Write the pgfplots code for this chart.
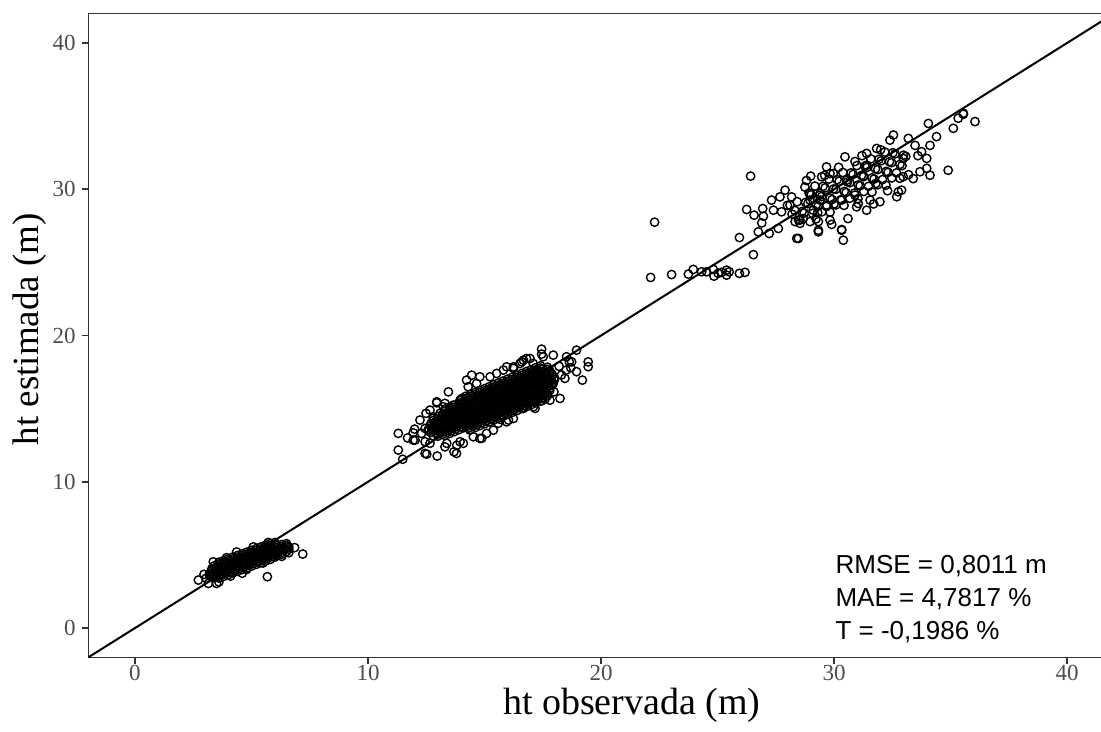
\documentclass[border=0pt]{standalone}
\usepackage{fontspec}
\setmainfont{Liberation Serif}
\newfontfamily\arial{Liberation Sans}
\usepackage{pgfplots}
\pgfplotsset{compat=1.18}

\definecolor{gr20}{HTML}{333333}
\definecolor{gr30}{HTML}{4D4D4D}

\pgfplotsset{
  pts/.style={only marks, mark=o, mark size=2.1pt, mark options={line width=0.7pt, black}},
}

\begin{document}
\begin{tikzpicture}
\begin{axis}[
  scale only axis, width=512.6pt, height=321.75pt,
  xmin=-2, xmax=42, ymin=-2, ymax=42,
  xtick={0,10,20,30,40}, ytick={0,10,20,30,40},
  axis line style={gr20, line width=0.6pt},
  tick style={gr20, line width=0.9pt},
  major tick length=3.2pt, tick align=outside,
  xtick pos=bottom, ytick pos=left,
  /pgf/number format/assume math mode=true,
  tick label style={font=\fontsize{11.5}{13}\selectfont, text=gr30},
  xticklabel style={inner sep=0.8pt},
  yticklabel style={inner sep=3pt},
  xlabel={ht observada (m)},
  ylabel={ht estimada (m)},
  xlabel style={font=\fontsize{19}{22}\selectfont, at={(axis description cs:0.530,-0.0742)}, anchor=center},
  ylabel style={font=\fontsize{18.5}{22}\selectfont, at={(axis description cs:-0.057,0.51)}, anchor=center},
  clip=true,
]
% cluster 1 (small trees)
\addplot[pts] coordinates {
(3.2,3.73)(3.4,3.84)(3.6,3.96)(3.8,4.07)(4.0,4.19)(4.2,4.31)(4.4,4.42)(4.6,4.54)(4.8,4.65)(5.0,4.77)(5.2,4.89)(5.4,5.00)(5.6,5.12)(5.8,5.23)(6.0,5.35)(6.2,5.41)(6.4,5.47)(6.6,5.53)
(3.3,4.05)(3.5,4.17)(3.7,4.29)(3.9,4.40)(4.1,4.52)(4.3,4.63)(4.5,4.75)(4.7,4.87)(4.9,4.98)(5.1,5.10)(5.3,5.21)(5.5,5.33)(5.7,5.45)(5.9,5.56)(6.1,5.65)(6.3,5.71)(6.5,5.77)
(3.3,3.51)(3.5,3.63)(3.7,3.75)(3.9,3.86)(4.1,3.98)(4.3,4.09)(4.5,4.21)(4.7,4.33)(4.9,4.44)(5.1,4.56)(5.3,4.67)(5.5,4.79)(5.7,4.91)(5.9,5.02)(6.1,5.11)(6.3,5.17)(6.5,5.23)
(3.6,4.50)(3.8,4.61)(4.0,4.73)(4.2,4.85)(4.4,4.96)(4.6,5.08)(4.8,5.19)(5.0,5.31)(5.2,5.43)(5.4,5.54)(5.6,5.66)(5.8,5.77)(6.0,5.85)
(3.6,3.42)(3.8,3.53)(4.0,3.65)(4.2,3.77)(4.4,3.88)(4.6,4.00)(4.8,4.11)(5.0,4.23)(5.2,4.35)(5.4,4.46)(5.6,4.58)(5.8,4.69)(6.0,4.85)
(3.3,3.92)(3.5,4.04)(3.7,4.15)(3.9,4.27)(4.1,4.38)(4.3,4.50)(4.5,4.62)(4.7,4.73)(4.9,4.85)(5.1,4.96)(5.3,5.08)(5.5,5.20)(5.7,5.31)(5.9,5.43)(6.1,5.52)(6.3,5.58)(6.5,5.64)
(3.5,3.50)(3.7,3.61)(3.9,3.73)(4.1,3.84)(4.3,3.96)(4.5,4.08)(4.7,4.19)(4.9,4.31)(5.1,4.42)(5.3,4.54)(5.5,4.66)(5.7,4.77)(5.9,4.89)(6.1,4.98)(6.3,5.04)
(3.4,4.25)(3.6,4.37)(3.8,4.48)(4.0,4.60)(4.2,4.72)(4.4,4.83)(4.6,4.95)(4.8,5.06)(5.0,5.18)(5.2,5.30)(5.4,5.41)(5.6,5.53)(5.8,5.64)(6.0,5.70)
(3.2,3.60)(3.4,3.71)(3.6,3.83)(3.8,3.94)(4.0,4.06)(4.2,4.18)(4.4,4.29)(4.6,4.41)(4.8,4.52)(5.0,4.64)(5.2,4.76)(5.4,4.87)(5.6,4.99)(5.8,5.10)(6.0,5.22)(6.2,5.28)(6.4,5.34)(6.6,5.40)
(2.72,3.28)(2.96,3.67)(3.15,3.05)(3.36,4.53)(3.5,3.05)(3.6,3.15)(3.93,4.81)(4.36,5.2)(5.08,5.55)(5.72,5.85)(6.58,5.56)(6.6,5.15)(6.3,4.9)(5.5,4.45)(4.79,4.0)(4.1,3.55)(7.2,5.06)(5.68,3.51)(3.05,3.4)(6.85,5.5)(4.6,3.75)
};
% cluster 2 (middle)
\addplot[pts] coordinates {
(12.6,13.61)(12.8,13.74)(13.0,13.87)(13.2,14.00)(13.4,14.13)(13.6,14.26)(13.8,14.39)(14.0,14.52)(14.2,14.65)(14.4,14.78)(14.6,14.91)(14.8,15.04)(15.0,15.17)(15.2,15.30)(15.4,15.43)(15.6,15.56)(15.8,15.69)(16.0,15.82)(16.2,15.95)(16.4,16.08)(16.6,16.21)(16.8,16.34)(17.0,16.47)(17.2,16.60)(17.4,16.73)(17.6,16.86)(17.8,16.99)(18.0,17.12)
(12.7,13.98)(12.9,14.11)(13.1,14.24)(13.3,14.37)(13.5,14.50)(13.7,14.63)(13.9,14.76)(14.1,14.89)(14.3,15.02)(14.5,15.15)(14.7,15.28)(14.9,15.41)(15.1,15.54)(15.3,15.67)(15.5,15.80)(15.7,15.93)(15.9,16.06)(16.1,16.19)(16.3,16.32)(16.5,16.45)(16.7,16.58)(16.9,16.71)(17.1,16.84)(17.3,16.97)(17.5,17.10)(17.7,17.23)(17.9,17.36)
(12.7,13.38)(12.9,13.51)(13.1,13.64)(13.3,13.77)(13.5,13.90)(13.7,14.03)(13.9,14.16)(14.1,14.29)(14.3,14.42)(14.5,14.55)(14.7,14.68)(14.9,14.81)(15.1,14.94)(15.3,15.07)(15.5,15.20)(15.7,15.33)(15.9,15.46)(16.1,15.59)(16.3,15.72)(16.5,15.85)(16.7,15.98)(16.9,16.11)(17.1,16.24)(17.3,16.37)(17.5,16.50)(17.7,16.63)(17.9,16.76)
(12.8,14.34)(13.0,14.47)(13.2,14.60)(13.4,14.73)(13.6,14.86)(13.8,14.99)(14.0,15.12)(14.2,15.25)(14.4,15.38)(14.6,15.51)(14.8,15.64)(15.0,15.77)(15.2,15.90)(15.4,16.03)(15.6,16.16)(15.8,16.29)(16.0,16.42)(16.2,16.55)(16.4,16.68)(16.6,16.81)(16.8,16.94)(17.0,17.07)(17.2,17.20)(17.4,17.33)(17.6,17.46)(17.8,17.59)
(12.8,13.14)(13.0,13.27)(13.2,13.40)(13.4,13.53)(13.6,13.66)(13.8,13.79)(14.0,13.92)(14.2,14.05)(14.4,14.18)(14.6,14.31)(14.8,14.44)(15.0,14.57)(15.2,14.70)(15.4,14.83)(15.6,14.96)(15.8,15.09)(16.0,15.22)(16.2,15.35)(16.4,15.48)(16.6,15.61)(16.8,15.74)(17.0,15.87)(17.2,16.00)(17.4,16.13)(17.6,16.26)(17.8,16.39)
(13.3,14.97)(13.5,15.10)(13.7,15.23)(13.9,15.36)(14.1,15.49)(14.3,15.62)(14.5,15.75)(14.7,15.88)(14.9,16.01)(15.1,16.14)(15.3,16.27)(15.5,16.40)(15.7,16.53)(15.9,16.66)(16.1,16.79)(16.3,16.92)(16.5,17.05)(16.7,17.18)(16.9,17.31)(17.1,17.44)(17.3,17.57)(17.5,17.70)(17.7,17.83)
(13.3,13.17)(13.5,13.30)(13.7,13.43)(13.9,13.56)(14.1,13.69)(14.3,13.82)(14.5,13.95)(14.7,14.08)(14.9,14.21)(15.1,14.34)(15.3,14.47)(15.5,14.60)(15.7,14.73)(15.9,14.86)(16.1,14.99)(16.3,15.12)(16.5,15.25)(16.7,15.38)(16.9,15.51)(17.1,15.64)(17.3,15.77)(17.5,15.90)(17.7,16.03)
(14.2,15.85)(14.4,15.98)(14.6,16.11)(14.8,16.24)(15.0,16.37)(15.2,16.50)(15.4,16.63)(15.6,16.76)(15.8,16.89)(16.0,17.02)(16.2,17.15)(16.4,17.28)(16.6,17.41)(16.8,17.54)(17.0,17.67)(17.2,17.80)(17.4,17.93)
(14.4,13.58)(14.6,13.71)(14.8,13.84)(15.0,13.97)(15.2,14.10)(15.4,14.23)(15.6,14.36)(15.8,14.49)(16.0,14.62)(16.2,14.75)(16.4,14.88)(16.6,15.01)(16.8,15.14)(17.0,15.27)(17.2,15.40)(17.4,15.53)(17.6,15.66)
(12.7,13.83)(12.9,13.96)(13.1,14.09)(13.3,14.22)(13.5,14.35)(13.7,14.48)(13.9,14.61)(14.1,14.74)(14.3,14.87)(14.5,15.00)(14.7,15.13)(14.9,15.26)(15.1,15.39)(15.3,15.52)(15.5,15.65)(15.7,15.78)(15.9,15.91)(16.1,16.04)(16.3,16.17)(16.5,16.30)(16.7,16.43)(16.9,16.56)(17.1,16.69)(17.3,16.82)(17.5,16.95)(17.7,17.08)(17.9,17.21)
(12.9,13.36)(13.1,13.49)(13.3,13.62)(13.5,13.75)(13.7,13.88)(13.9,14.01)(14.1,14.14)(14.3,14.27)(14.5,14.40)(14.7,14.53)(14.9,14.66)(15.1,14.79)(15.3,14.92)(15.5,15.05)(15.7,15.18)(15.9,15.31)(16.1,15.44)(16.3,15.57)(16.5,15.70)(16.7,15.83)(16.9,15.96)(17.1,16.09)(17.3,16.22)(17.5,16.35)(17.7,16.48)(17.9,16.61)
(13.1,14.69)(13.3,14.82)(13.5,14.95)(13.7,15.08)(13.9,15.21)(14.1,15.34)(14.3,15.47)(14.5,15.60)(14.7,15.73)(14.9,15.86)(15.1,15.99)(15.3,16.12)(15.5,16.25)(15.7,16.38)(15.9,16.51)(16.1,16.64)(16.3,16.77)(16.5,16.90)(16.7,17.03)(16.9,17.16)(17.1,17.29)(17.3,17.42)(17.5,17.55)(17.7,17.68)
(14.3,13.67)(14.5,13.80)(14.7,13.93)(14.9,14.06)(15.1,14.19)(15.3,14.32)(15.5,14.45)(15.7,14.58)(15.9,14.71)(16.1,14.84)(16.3,14.97)(16.5,15.10)(16.7,15.23)(16.9,15.36)(17.1,15.49)(17.3,15.62)(17.5,15.75)(17.7,15.88)
(12.8,14.19)(13.0,14.32)(13.2,14.45)(13.4,14.58)(13.6,14.71)(13.8,14.84)(14.0,14.97)(14.2,15.10)(14.4,15.23)(14.6,15.36)(14.8,15.49)(15.0,15.62)(15.2,15.75)(15.4,15.88)(15.6,16.01)(15.8,16.14)(16.0,16.27)(16.2,16.40)(16.4,16.53)(16.6,16.66)(16.8,16.79)(17.0,16.92)(17.2,17.05)(17.4,17.18)(17.6,17.31)(17.8,17.44)
(14.0,15.57)(14.2,15.70)(14.4,15.83)(14.6,15.96)(14.8,16.09)(15.0,16.22)(15.2,16.35)(15.4,16.48)(15.6,16.61)(15.8,16.74)(16.0,16.87)(16.2,17.00)(16.4,17.13)(16.6,17.26)(16.8,17.39)(17.0,17.52)(17.2,17.65)(17.4,17.78)
(12.6,13.46)(12.8,13.59)(13.0,13.72)(13.2,13.85)(13.4,13.98)(13.6,14.11)(13.8,14.24)(14.0,14.37)(14.2,14.50)(14.4,14.63)(14.6,14.76)(14.8,14.89)(15.0,15.02)(15.2,15.15)(15.4,15.28)(15.6,15.41)(15.8,15.54)(16.0,15.67)(16.2,15.80)(16.4,15.93)(16.6,16.06)(16.8,16.19)(17.0,16.32)(17.2,16.45)(17.4,16.58)(17.6,16.71)(17.8,16.84)(18.0,16.97)
(13.0,13.12)(13.2,13.25)(13.4,13.38)(13.6,13.51)(13.8,13.64)(14.0,13.77)(14.2,13.90)(14.4,14.03)(14.6,14.16)(14.8,14.29)(15.0,14.42)(15.2,14.55)(15.4,14.68)(15.6,14.81)(15.8,14.94)(16.0,15.07)(16.2,15.20)(16.4,15.33)(16.6,15.46)(16.8,15.59)(17.0,15.72)(17.2,15.85)(17.4,15.98)(17.6,16.11)(17.8,16.24)
(11.3,13.31)(11.3,12.17)(11.49,11.54)(11.94,13.35)(12.3,13.31)(11.94,12.85)(12.45,12.74)(12.66,12.63)(12.45,11.94)(12.97,11.76)(13.3,12.39)(13.69,12.05)(13.95,12.74)(14.8,12.97)(13.45,16.15)(12.95,15.4)(13.23,15.13)(12.49,14.68)(12.8,14.45)(14.45,17.29)(13.95,15.58)(12.95,15.47)
(15.52,17.41)(15.95,17.86)(16.24,17.86)(16.67,18.32)(16.95,18.43)(17.45,19.07)(17.52,18.55)(17.95,18.66)(18.52,18.55)(18.95,19.0)(18.74,18.2)(19.45,18.2)(19.45,17.87)(18.95,17.53)(19.2,16.95)(18.24,15.7)(17.81,15.58)(17.17,15.02)(16.24,14.33)(15.95,14.1)(15.38,13.53)(14.88,12.97)(14.38,13.53)(13.8,11.94)(12.52,11.89)(12.02,12.85)(12.45,13.65)(12.23,14.22)(12.66,14.9)(13.3,15.36)(14.23,16.95)(14.8,17.18)(15.24,17.18)(15.81,17.64)(16.52,18.09)(17.09,18.09)
(15.09,13.31)(15.59,14.0)(14.52,13.08)(14.09,12.63)(13.38,12.63)(13.81,12.5)(13.66,15.24)(14.02,15.7)(14.3,16.5)(14.66,16.72)(18.5,17.63)(18.45,17.07)(17.95,16.72)(17.98,16.15)(18.64,18.2)(17.45,15.53)(17.1,15.13)(16.67,15.02)(16.03,14.22)(15.67,14.27)(17.45,18.73)(16.8,18.43)(16.6,18.2)(16.24,17.75)(18.2,17.9)(18.3,17.3)(18.7,17.8)(12.0,13.6)(11.7,13.0)
};
% sparse group
\addplot[pts] coordinates {
(22.13,23.97)(22.3,27.75)(23.03,24.17)(23.75,24.2)(23.96,24.52)(24.32,24.36)(24.53,24.36)(24.82,24.52)(24.85,24.06)(25.03,24.25)(25.18,24.32)(25.39,24.47)(25.39,24.13)(25.5,24.36)(25.94,24.25)(26.18,24.32)(26.54,25.53)(25.94,26.7)(26.25,28.62)(26.42,30.9)
};
% cluster 3 (tall trees)
\addplot[pts] coordinates {
(28.32,28.55)(28.63,28.48)(28.88,29.02)(29.24,28.95)(29.47,29.5)(29.83,29.4)(30.08,30.0)(30.44,29.85)(30.68,30.45)(31.04,30.3)(31.27,30.9)(31.63,30.78)(31.88,31.35)(32.24,31.22)(32.47,31.82)(32.83,31.7)(33.08,32.25)
(28.42,29.15)(28.78,29.1)(29.02,29.62)(29.38,29.58)(29.62,30.1)(29.98,30.02)(30.22,30.55)(30.58,30.5)(30.82,31.02)(31.18,30.95)(31.42,31.5)(31.78,31.4)(32.02,31.95)(32.38,31.88)(32.62,32.42)(32.98,32.33)
(28.48,27.9)(28.72,28.38)(29.08,28.35)(29.32,28.85)(29.68,28.82)(29.92,29.3)(30.28,29.28)(30.52,29.78)(30.88,29.74)(31.12,30.24)(31.48,30.2)(31.72,30.7)(32.08,30.66)(32.32,31.16)(32.68,31.12)(32.92,31.62)
(28.93,29.75)(29.18,30.22)(29.53,30.2)(29.78,30.7)(30.13,30.66)(30.38,31.15)(30.73,31.12)(30.98,31.62)(31.33,31.58)(31.58,32.08)(31.93,32.05)(32.18,32.55)(32.53,32.5)
(29.23,27.98)(29.48,28.46)(29.83,28.44)(30.08,28.93)(30.43,28.9)(30.68,29.39)(31.03,29.36)(31.28,29.85)(31.63,29.82)(31.88,30.31)(32.23,30.28)(32.48,30.78)(32.83,30.75)
(29.0,30.9)(29.6,30.95)(30.2,31.5)(30.9,31.9)(31.2,32.3)(32.0,32.7)(29.9,27.6)(30.6,28.0)(31.7,29.0)(32.3,29.9)(33.2,31.0)(33.6,32.3)(30.0,29.0)(30.9,29.6)(31.8,30.4)(29.3,28.4)(28.0,28.9)(28.2,28.3)
(26.57,28.23)(26.94,28.68)(26.97,28.16)(26.9,27.7)(27.32,29.26)(27.68,29.48)(27.9,29.94)(28.18,29.48)(28.11,28.92)(27.4,28.57)(27.75,28.46)(27.61,27.32)(27.22,26.98)(26.75,27.09)(28.4,26.64)(28.33,27.79)(28.54,27.67)(28.68,28.0)(28.97,27.79)(29.33,27.2)(29.33,27.79)
(28.82,30.6)(28.75,30.15)(28.97,29.7)(29.47,30.86)(29.83,31.08)(29.4,29.26)(29.83,27.89)(30.33,27.2)(30.4,26.52)(31.04,29.03)(31.4,28.57)(28.47,26.64)(29.33,27.09)(30.33,27.25)(29.68,31.53)(30.47,32.22)(31.83,32.79)(32.55,33.71)(33.19,33.48)(33.48,33.0)
(34.05,34.5)(34.4,33.6)(35.12,34.17)(35.33,34.86)(35.55,35.2)(36.05,34.63)(34.9,31.3)(34.12,30.96)(33.4,30.73)(32.69,29.49)(32.76,29.83)(31.97,29.15)(31.26,30.86)(31.4,31.65)(32.4,33.36)(32.97,32.11)(33.76,32.57)(33.98,31.43)(31.55,29.26)(30.97,28.8)
(30.33,29.26)(29.68,28.92)(29.11,28.57)(28.97,29.26)(28.54,27.89)(29.4,29.71)(30.54,30.62)(29.97,31.08)(35.55,35.13)(34.12,33.0)(33.69,31.2)(32.9,29.94)(32.97,30.86)(31.4,32.45)(33.98,32.11)
};
% 1:1 line
\addplot[black, line width=1pt] coordinates {(-5,-5) (50,50)};
\node[anchor=north west, inner sep=0pt, align=left,
  font=\arial\fontsize{13}{16.5}\selectfont] at (axis cs:30.05,4.99)
  {RMSE = 0,8011 m\\MAE = 4,7817 \%\\T = -0,1986 \%};
\end{axis}
\pgfresetboundingbox
\path[use as bounding box] (-44.2pt,-36.9pt) rectangle (506.3pt,328.65pt);
\end{tikzpicture}
\end{document}
